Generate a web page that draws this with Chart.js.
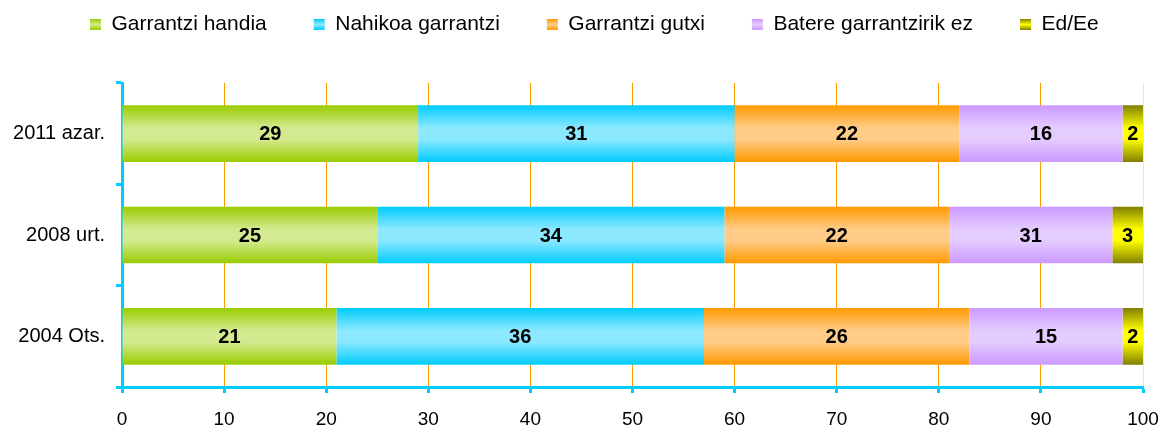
<!DOCTYPE html>
<html>
<head>
<meta charset="utf-8">
<script src="https://cdn.jsdelivr.net/npm/chart.js@4"></script>
<style>
  html, body { margin: 0; padding: 0; background: #fff; }
  #wrap { width: 1163px; height: 427px; }
</style>
</head>
<body>
<div id="wrap"><canvas id="myChart" width="1163" height="427"></canvas></div>
<script>
// data
const periods = ['2011 azar.', '2008 urt.', '2004 Ots.'];
const handia = [29, 25, 21];
const nahikoa = [31, 34, 36];
const gutxi = [22, 22, 26];
const batere = [16, 16, 15];
const ede = [2, 3, 2];
// printed labels on the bars (source prints 31 on the 2008 "batere" bar)
const batereShown = ['16', '31', '15'];

const FONT = '"Liberation Sans", Arial, sans-serif';

// vertical gradient per bar: dark at the edges, light in the middle
function grad(edge, mid) {
  return function(ctx) {
    const chart = ctx.chart;
    const y = chart.scales.y;
    if (!y || ctx.type !== 'data' || !chart.chartArea) return mid;
    const c = y.getPixelForValue(ctx.dataIndex);
    const h = Math.abs(y.getPixelForValue(1) - y.getPixelForValue(0)) * 0.56 / 2;
    const g = chart.ctx.createLinearGradient(0, c - h, 0, c + h);
    g.addColorStop(0, edge);
    g.addColorStop(0.4, mid);
    g.addColorStop(0.6, mid);
    g.addColorStop(1, edge);
    return g;
  };
}

// bold numbers in the middle of each bar
const barLabels = {
  id: 'barLabels',
  afterDatasetsDraw(chart) {
    const c = chart.ctx;
    c.save();
    c.font = 'bold 20px ' + FONT;
    c.fillStyle = '#000';
    c.textAlign = 'center';
    c.textBaseline = 'middle';
    chart.data.datasets.forEach((ds, i) => {
      const meta = chart.getDatasetMeta(i);
      meta.data.forEach((bar, j) => {
        const txt = ds.shown ? ds.shown[j] : String(ds.data[j]);
        c.fillText(txt, (bar.x + bar.base) / 2, bar.y + 1);
      });
    });
    c.restore();
  }
};

// legend on one line, tall enough to push the plot down, starting at x=43
const legendHeight = {
  id: 'legendHeight',
  beforeInit(chart) {
    const fit = chart.legend.fit;
    chart.legend.fit = function() {
      const mw = this.maxWidth;
      this.maxWidth = 5000;
      fit.bind(this)();
      this.maxWidth = mw;
      this.width = mw;
      this.height = 116;
    };
  },
  afterLayout(chart) {
    chart.legend.left = 43;
  }
};

var ctx = document.getElementById('myChart').getContext('2d');
var chart = new Chart(ctx, {
  type: 'bar',
  data: {
    labels: periods,
    datasets: [
      { label: 'Garrantzi handia', data: handia, edge: '#99CC00', mid: '#D4EA91' },
      { label: 'Nahikoa garrantzi', data: nahikoa, edge: '#00CCFF', mid: '#8CE8FF' },
      { label: 'Garrantzi gutxi', data: gutxi, edge: '#FF9900', mid: '#FFCC88' },
      { label: 'Batere garrantzirik ez', data: batere, shown: batereShown, edge: '#CC99FF', mid: '#E4CCFF' },
      { label: 'Ed/Ee', data: ede, edge: '#808000', mid: '#FFFF00' }
    ].map(d => Object.assign(d, { backgroundColor: grad(d.edge, d.mid) }))
  },
  options: {
    indexAxis: 'y',
    responsive: false,
    maintainAspectRatio: false,
    animation: false,
    layout: { padding: { top: -33, left: 0, right: 0, bottom: 0 } },
    categoryPercentage: 1,
    barPercentage: 0.56,
    borderWidth: 0,
    scales: {
      x: {
        stacked: true,
        min: 0,
        max: 100,
        afterFit(scale) { scale.height = 40; scale.paddingRight = 20; },
        grid: {
          color: (c) => c.index === 10 ? '#FFE2BC' : '#FF9900',
          lineWidth: 1,
          tickColor: '#00CCFF',
          tickWidth: 3,
          tickLength: 6
        },
        border: { color: '#00CCFF', width: 3 },
        ticks: {
          stepSize: 10,
          color: '#000',
          padding: 15,
          font: { family: FONT, size: 19 }
        }
      },
      y: {
        stacked: true,
        afterFit(scale) { scale.width = 122; },
        grid: {
          drawOnChartArea: false,
          tickColor: '#00CCFF',
          tickWidth: 3,
          tickLength: 6
        },
        border: { color: '#00CCFF', width: 3 },
        ticks: {
          color: '#000',
          padding: 11,
          font: { family: FONT, size: 20 }
        }
      }
    },
    plugins: {
      tooltip: { enabled: false },
      legend: {
        position: 'top',
        align: 'start',
        labels: {
          boxWidth: 11,
          boxHeight: 11,
          padding: 47,
          color: '#000',
          font: { family: FONT, size: 21 },
          generateLabels(chart) {
            const items = Chart.defaults.plugins.legend.labels.generateLabels(chart);
            items.forEach(it => {
              const ds = chart.data.datasets[it.datasetIndex];
              const g = chart.ctx.createLinearGradient(0, 19, 0, 30);
              g.addColorStop(0, ds.edge);
              g.addColorStop(0.5, ds.mid);
              g.addColorStop(1, ds.edge);
              it.fillStyle = g;
              it.lineWidth = 0;
            });
            return items;
          }
        }
      }
    }
  },
  plugins: [barLabels, legendHeight]
});
</script>
</body>
</html>
